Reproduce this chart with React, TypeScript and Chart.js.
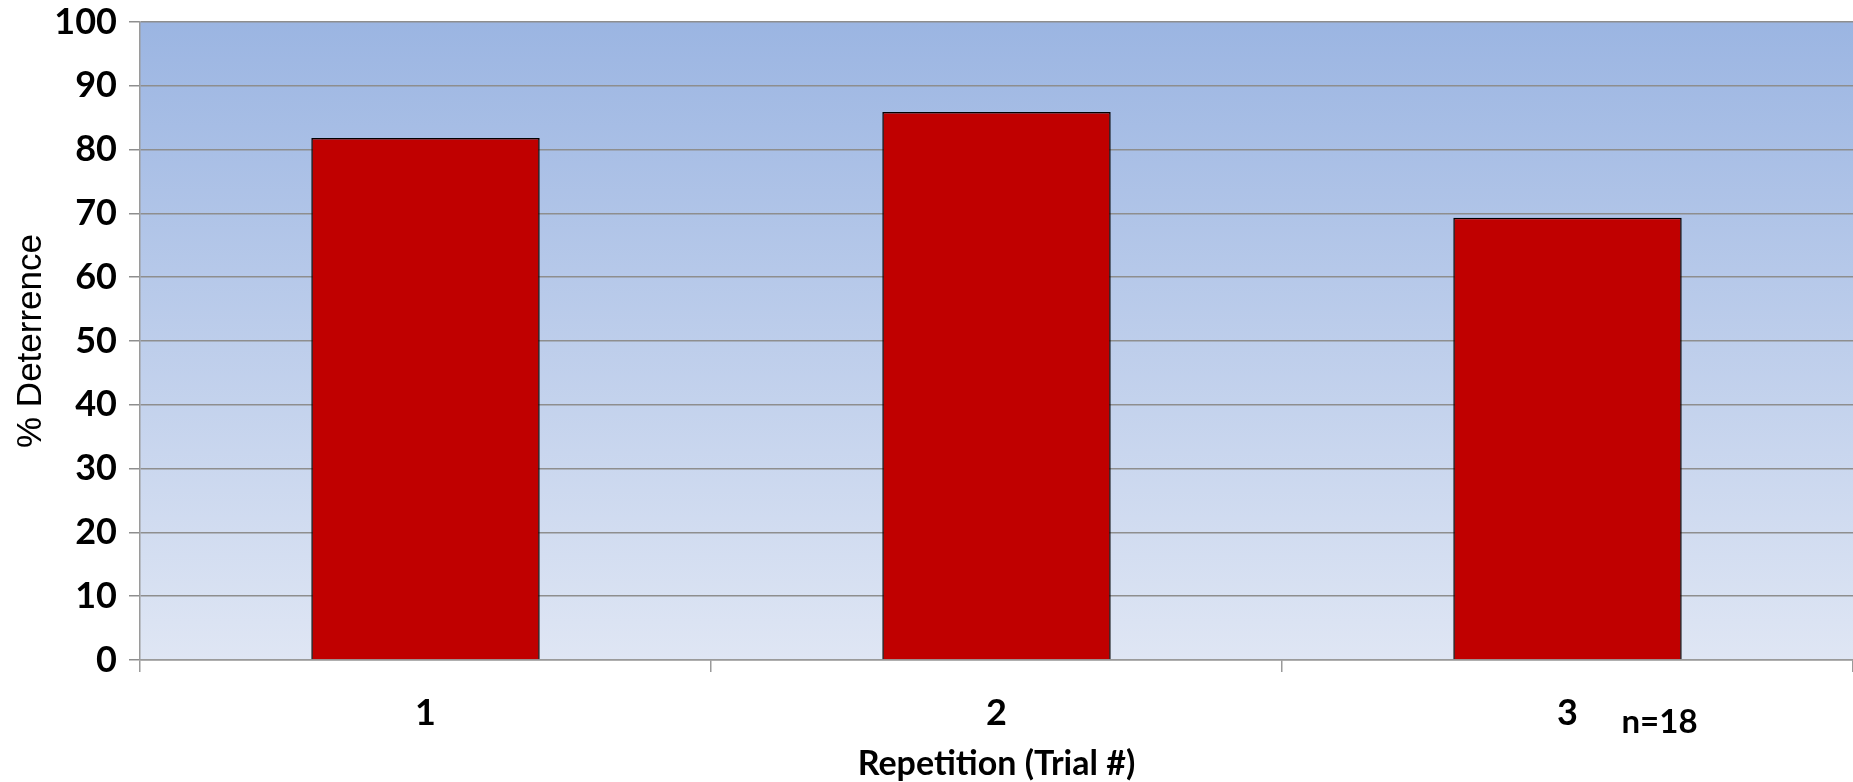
import React, { useEffect, useRef } from "react";
import { Chart, registerables } from "chart.js";

Chart.register(...registerables);

const categories = ["1", "2", "3"];
const deterrence = [81.8, 85.9, 69.3];
const yTicks = [0, 10, 20, 30, 40, 50, 60, 70, 80, 90, 100];
const yTitle = "% Deterrence";
const xTitle = "Repetition (Trial #)";
const sampleNote = "n=18";

const bgPlugin = {
  id: "bgGradient",
  beforeDraw(chart: any) {
    const { ctx, chartArea } = chart;
    if (!chartArea) return;
    const g = ctx.createLinearGradient(0, chartArea.top, 0, chartArea.bottom);
    g.addColorStop(0, "#9bb5e2");
    g.addColorStop(1, "#dfe6f4");
    ctx.save();
    ctx.fillStyle = g;
    ctx.fillRect(chartArea.left, chartArea.top, chartArea.right - chartArea.left, chartArea.bottom - chartArea.top);
    ctx.restore();
  },
};

const notePlugin = {
  id: "noteText",
  afterDraw(chart: any) {
    const { ctx, chartArea } = chart;
    const xs = chart.scales.x;
    const x = xs.getPixelForValue(categories.length - 1) + 54;
    const y = chartArea.bottom + 62;
    ctx.save();
    ctx.font = "bold 33px Lato";
    ctx.fillStyle = "#000";
    ctx.textAlign = "left";
    ctx.textBaseline = "middle";
    ctx.fillText(sampleNote, x, y);
    ctx.restore();
  },
};

export default function App() {
  const ref = useRef<HTMLCanvasElement | null>(null);
  useEffect(() => {
    document.body.style.margin = "0";
    const chart = new Chart(ref.current as HTMLCanvasElement, {
      type: "bar",
      data: {
        labels: categories,
        datasets: [
          {
            data: deterrence,
            backgroundColor: "#c00000",
            borderColor: "#000000",
            borderWidth: 1.5,
            categoryPercentage: 1,
            barPercentage: 0.4,
          },
        ],
      },
      options: {
        animation: false,
        responsive: true,
        maintainAspectRatio: false,
        layout: { padding: { top: 22, right: 0, left: 0, bottom: 0 } },
        plugins: { legend: { display: false }, tooltip: { enabled: false } },
        scales: {
          x: {
            grid: { offset: true, drawOnChartArea: false, tickLength: 12, color: "#9a9a9a", lineWidth: 1.5 },
            border: { display: true, color: "#9a9a9a", width: 1.5 },
            ticks: { color: "#000", font: { family: "Lato", weight: "bold", size: 36 }, padding: 20 },
            title: {
              display: true,
              text: xTitle,
              color: "#000",
              font: { family: "Lato", weight: "bold", size: 34 },
              padding: { top: 0, bottom: -2 },
            },
            afterFit: (s: any) => {
              s.height = 122;
              s.paddingLeft = 0;
              s.paddingRight = 0;
            },
          },
          y: {
            min: 0,
            max: 100,
            afterBuildTicks: (s: any) => {
              s.ticks = yTicks.map((v) => ({ value: v }));
            },
            grid: { color: "#8e8e8e", lineWidth: 1.5, tickLength: 11 },
            border: { display: true, color: "#9a9a9a", width: 1.5 },
            ticks: { color: "#000", font: { family: "Lato", weight: "bold", size: 36 }, padding: 12 },
            title: {
              display: true,
              text: yTitle,
              color: "#000",
              font: { family: "Liberation Sans", weight: "normal", size: 35 },
              padding: { top: 10, bottom: 0 },
            },
            afterFit: (s: any) => {
              s.width = 140;
              s.paddingTop = 0;
              s.paddingBottom = 0;
            },
          },
        },
      },
      plugins: [bgPlugin, notePlugin],
    });
    return () => chart.destroy();
  }, []);
  return (
    <div style={{ position: "fixed", left: 0, top: 0, width: 1853, height: 782 }}>
      <canvas ref={ref} />
    </div>
  );
}
